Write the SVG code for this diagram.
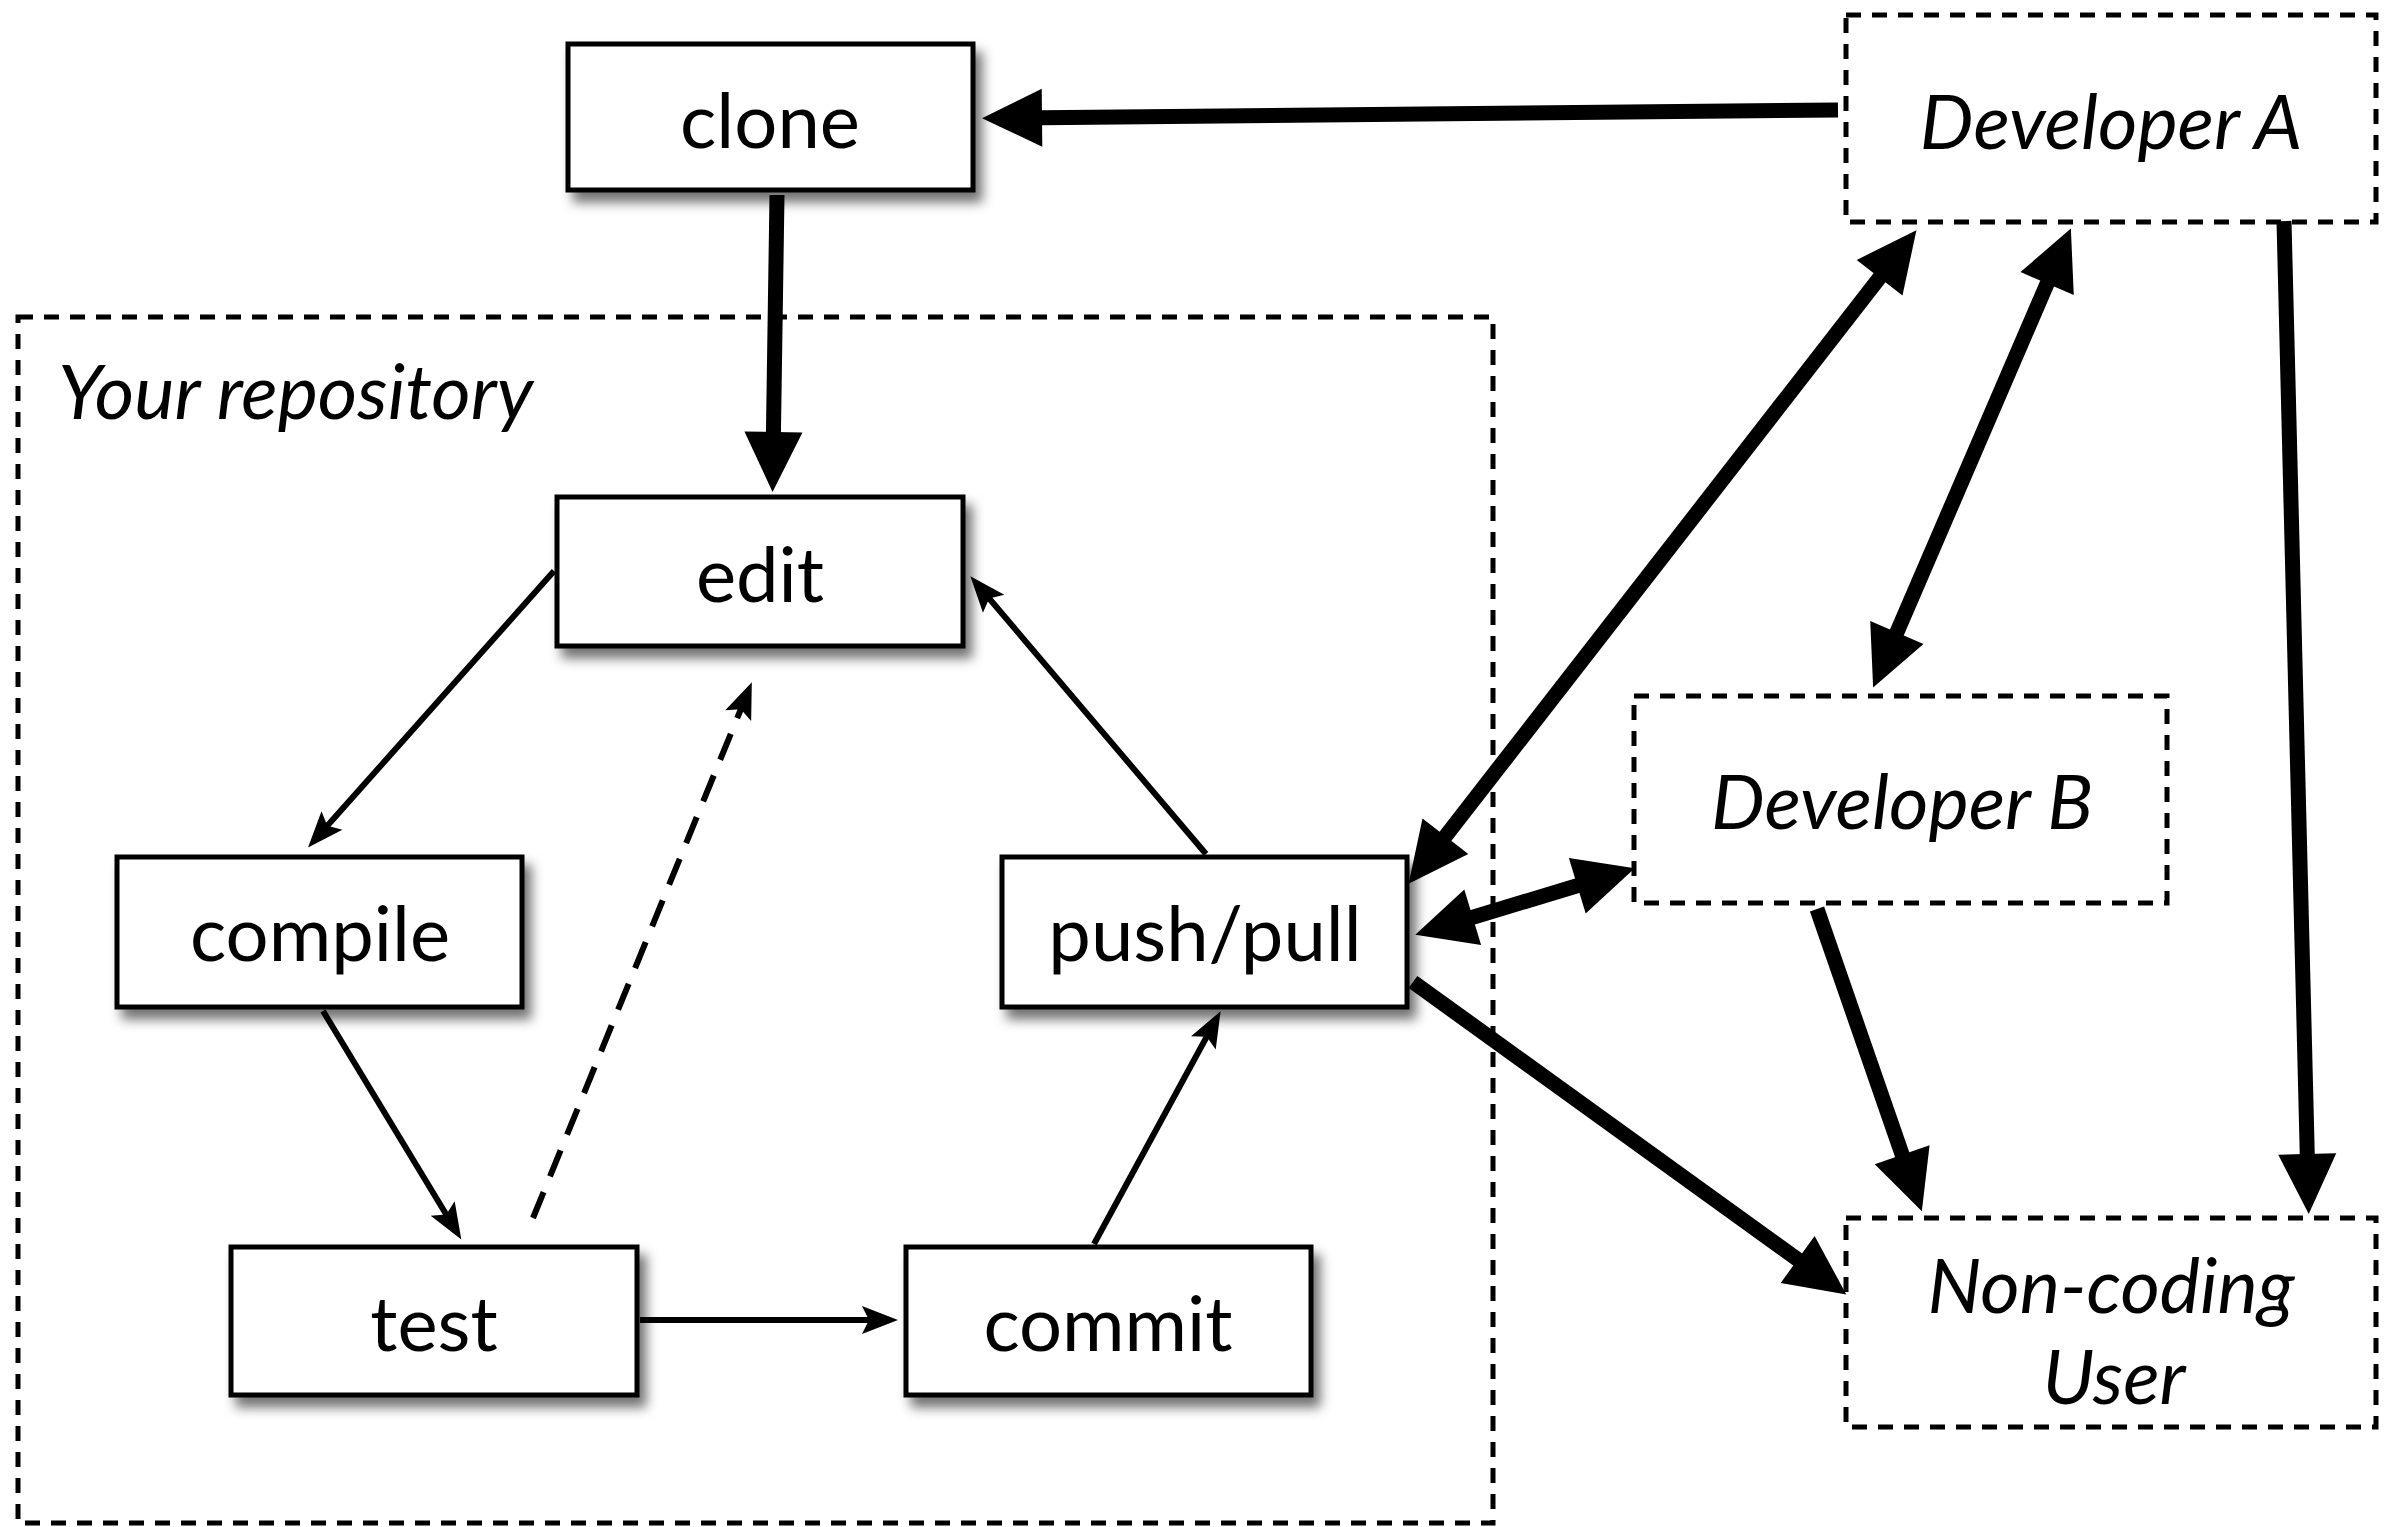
<svg xmlns="http://www.w3.org/2000/svg" width="2388" height="1527" viewBox="0 0 2388 1527">
<style>
.box{fill:#fff;stroke:#000;stroke-width:5;filter:url(#sh)}
.dbox{fill:none;stroke:#000;stroke-width:5;stroke-dasharray:15 11}
.lbl{font-family:Lato,"Open Sans","Liberation Sans",sans-serif;font-size:76px;text-anchor:middle;fill:#000}
.ital{font-family:Lato,"Open Sans","Liberation Sans",sans-serif;font-size:76px;font-style:italic;fill:#000}
.thick{stroke:#000;stroke-width:15;fill:none}
.thin{stroke:#000;stroke-width:6;fill:none}
.dash{stroke:#000;stroke-width:6;fill:none;stroke-dasharray:28 17}
</style>
<defs>
<filter id="sh" x="-10%" y="-10%" width="130%" height="140%">
<feDropShadow dx="7" dy="10" stdDeviation="6" flood-color="#000" flood-opacity="0.55"/>
</filter>
<marker id="hk" markerUnits="userSpaceOnUse" markerWidth="64" markerHeight="60" refX="30" refY="29" orient="auto-start-reverse" overflow="visible">
<path d="M0,0 L60,29 L0,58 z" fill="#000"/>
</marker>
<marker id="hn" markerUnits="userSpaceOnUse" markerWidth="38" markerHeight="30" refX="18" refY="14" orient="auto-start-reverse" overflow="visible">
<path d="M0,0 L36,14 L0,28 L7,14 z" fill="#000"/>
</marker>
</defs>
<rect width="2388" height="1527" fill="#fff"/>

<g id="your-repository">
<rect class="dbox" x="18" y="317" width="1475" height="1206"/>
<text class="ital" x="58" y="419">Your repository</text>
</g>

<g id="connectors">
<line class="thick" x1="1838" y1="110" x2="1012" y2="118" marker-end="url(#hk)"/>
<line class="thick" x1="777" y1="195" x2="773" y2="462" marker-end="url(#hk)"/>
<line class="thin" x1="554" y1="571" x2="320" y2="834" marker-end="url(#hn)"/>
<line class="thin" x1="323" y1="1011" x2="452" y2="1224" marker-end="url(#hn)"/>
<line class="thin" x1="640" y1="1320" x2="880" y2="1320" marker-end="url(#hn)"/>
<line class="thin" x1="1094" y1="1244" x2="1212" y2="1027" marker-end="url(#hn)"/>
<line class="thin" x1="1206" y1="854" x2="982" y2="590" marker-end="url(#hn)"/>
<line class="dash" x1="533" y1="1218" x2="745" y2="699" marker-end="url(#hn)"/>
<line class="thick" x1="1427" y1="860" x2="1898" y2="254" marker-start="url(#hk)" marker-end="url(#hk)"/>
<line class="thick" x1="2059" y1="256" x2="1885" y2="660" marker-start="url(#hk)" marker-end="url(#hk)"/>
<line class="thick" x1="1444" y1="926" x2="1606" y2="877" marker-start="url(#hk)" marker-end="url(#hk)"/>
<line class="thick" x1="1413" y1="982" x2="1822" y2="1277" marker-end="url(#hk)"/>
<line class="thick" x1="1817" y1="909" x2="1912" y2="1183" marker-end="url(#hk)"/>
<line class="thick" x1="2284" y1="221" x2="2308" y2="1184" marker-end="url(#hk)"/>
</g>

<g id="clone">
<rect class="box" x="568" y="44" width="405" height="146"/>
<text class="lbl" x="770" y="148">clone</text>
</g>
<g id="edit">
<rect class="box" x="557" y="497" width="406" height="149"/>
<text class="lbl" x="760" y="602">edit</text>
</g>
<g id="compile">
<rect class="box" x="117" y="857" width="405" height="150"/>
<text class="lbl" x="320" y="961">compile</text>
</g>
<g id="push-pull">
<rect class="box" x="1002" y="857" width="405" height="150"/>
<text class="lbl" x="1205" y="961">push/pull</text>
</g>
<g id="test">
<rect class="box" x="231" y="1247" width="406" height="148"/>
<text class="lbl" x="434" y="1351">test</text>
</g>
<g id="commit">
<rect class="box" x="906" y="1247" width="405" height="148"/>
<text class="lbl" x="1108" y="1351">commit</text>
</g>

<g id="developer-a">
<rect class="dbox" x="1846" y="15" width="530" height="207"/>
<text class="ital" x="2111" y="149" text-anchor="middle">Developer A</text>
</g>
<g id="developer-b">
<rect class="dbox" x="1634" y="696" width="533" height="207"/>
<text class="ital" x="1902" y="829" text-anchor="middle">Developer B</text>
</g>
<g id="non-coding-user">
<rect class="dbox" x="1846" y="1218" width="530" height="209"/>
<text class="ital" x="2111" y="1313" text-anchor="middle">Non-coding</text>
<text class="ital" x="2114" y="1404" text-anchor="middle">User</text>
</g>
</svg>
